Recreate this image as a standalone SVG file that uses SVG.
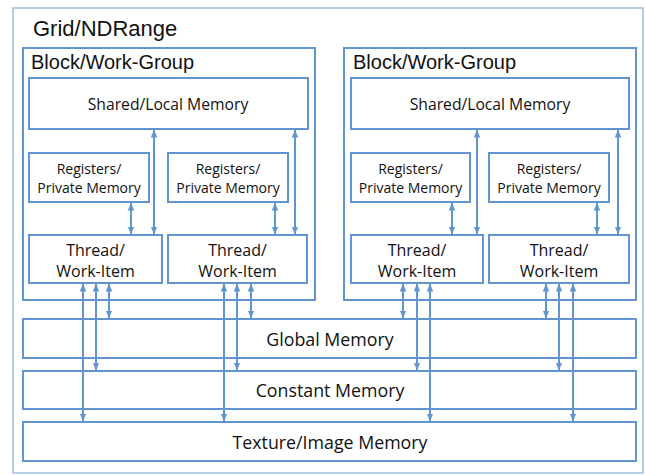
<svg xmlns="http://www.w3.org/2000/svg" width="645" height="475" viewBox="0 0 645 475">
<style>
.box{fill:#fff;stroke:#6195cf;stroke-width:2}
.outer{fill:#fff;stroke:#8db3df;stroke-width:1.3}
.title{font-family:"Liberation Sans",Arial,sans-serif;fill:#111}
.lbl{font-family:"Open Sans","Noto Sans",sans-serif;fill:#111;text-anchor:middle}
.con line{stroke:#6195cf;stroke-width:2;marker-start:url(#ah);marker-end:url(#ah)}
</style>
<defs>
<marker id="ah" viewBox="0 0 8 8" refX="7.5" refY="4" markerWidth="8" markerHeight="8" markerUnits="userSpaceOnUse" orient="auto-start-reverse">
<path d="M0,0.8 L8,4 L0,7.2 Z" fill="#6195cf"/>
</marker>
</defs>
<g id="grid">
<rect class="outer" x="13" y="8" width="630" height="465"/>
<text class="title" x="33" y="36" font-size="22">Grid/NDRange</text>
</g>
<g id="block1">
<rect class="box" x="23" y="48" width="292" height="252"/>
<text class="title" x="31" y="69" font-size="20">Block/Work-Group</text>
</g>
<g id="block2">
<rect class="box" x="344" y="48" width="292" height="252"/>
<text class="title" x="353" y="69" font-size="20">Block/Work-Group</text>
</g>
<g id="shared1">
<rect class="box" x="29" y="78" width="279" height="51"/>
<text class="lbl" x="168" y="110" font-size="15.7">Shared/Local Memory</text>
</g>
<g id="shared2">
<rect class="box" x="351" y="78" width="278" height="51"/>
<text class="lbl" x="490" y="110" font-size="15.7">Shared/Local Memory</text>
</g>
<g id="reg1">
<rect class="box" x="29" y="153" width="120" height="49"/>
<text class="lbl" x="89" y="174" font-size="14">Registers/</text>
<text class="lbl" x="89" y="193" font-size="14">Private Memory</text>
</g>
<g id="reg2">
<rect class="box" x="168" y="153" width="120" height="49"/>
<text class="lbl" x="228" y="174" font-size="14">Registers/</text>
<text class="lbl" x="228" y="193" font-size="14">Private Memory</text>
</g>
<g id="reg3">
<rect class="box" x="351" y="153" width="119" height="49"/>
<text class="lbl" x="410.5" y="174" font-size="14">Registers/</text>
<text class="lbl" x="410.5" y="193" font-size="14">Private Memory</text>
</g>
<g id="reg4">
<rect class="box" x="489" y="153" width="120" height="49"/>
<text class="lbl" x="549" y="174" font-size="14">Registers/</text>
<text class="lbl" x="549" y="193" font-size="14">Private Memory</text>
</g>
<g id="thread1">
<rect class="box" x="29" y="235" width="133" height="48"/>
<text class="lbl" x="95.5" y="256" font-size="16">Thread/</text>
<text class="lbl" x="95.5" y="277" font-size="16">Work-Item</text>
</g>
<g id="thread2">
<rect class="box" x="168" y="235" width="139" height="48"/>
<text class="lbl" x="237.5" y="256" font-size="16">Thread/</text>
<text class="lbl" x="237.5" y="277" font-size="16">Work-Item</text>
</g>
<g id="thread3">
<rect class="box" x="351" y="235" width="132" height="48"/>
<text class="lbl" x="417" y="256" font-size="16">Thread/</text>
<text class="lbl" x="417" y="277" font-size="16">Work-Item</text>
</g>
<g id="thread4">
<rect class="box" x="489" y="235" width="140" height="48"/>
<text class="lbl" x="559" y="256" font-size="16">Thread/</text>
<text class="lbl" x="559" y="277" font-size="16">Work-Item</text>
</g>
<g id="global">
<rect class="box" x="23" y="319" width="613" height="39"/>
<text class="lbl" x="330" y="346" font-size="17.8">Global Memory</text>
</g>
<g id="constant">
<rect class="box" x="23" y="371" width="613" height="38"/>
<text class="lbl" x="330" y="397" font-size="17.8">Constant Memory</text>
</g>
<g id="texture">
<rect class="box" x="23" y="422" width="613" height="39"/>
<text class="lbl" x="330" y="449" font-size="17.8">Texture/Image Memory</text>
</g>
<g class="con" id="connectors">
<line x1="131" y1="203" x2="131" y2="234"/>
<line x1="154" y1="130" x2="154" y2="234"/>
<line x1="275" y1="203" x2="275" y2="234"/>
<line x1="295" y1="130" x2="295" y2="234"/>
<line x1="452" y1="203" x2="452" y2="234"/>
<line x1="477" y1="130" x2="477" y2="234"/>
<line x1="597" y1="203" x2="597" y2="234"/>
<line x1="618" y1="130" x2="618" y2="234"/>
<line x1="83" y1="284" x2="83" y2="421"/>
<line x1="96" y1="284" x2="96" y2="370"/>
<line x1="109" y1="284" x2="109" y2="318"/>
<line x1="224" y1="284" x2="224" y2="421"/>
<line x1="237" y1="284" x2="237" y2="370"/>
<line x1="251" y1="284" x2="251" y2="318"/>
<line x1="403" y1="284" x2="403" y2="318"/>
<line x1="417" y1="284" x2="417" y2="370"/>
<line x1="430" y1="284" x2="430" y2="421"/>
<line x1="546" y1="284" x2="546" y2="318"/>
<line x1="559" y1="284" x2="559" y2="370"/>
<line x1="573" y1="284" x2="573" y2="421"/>
</g>
</svg>
